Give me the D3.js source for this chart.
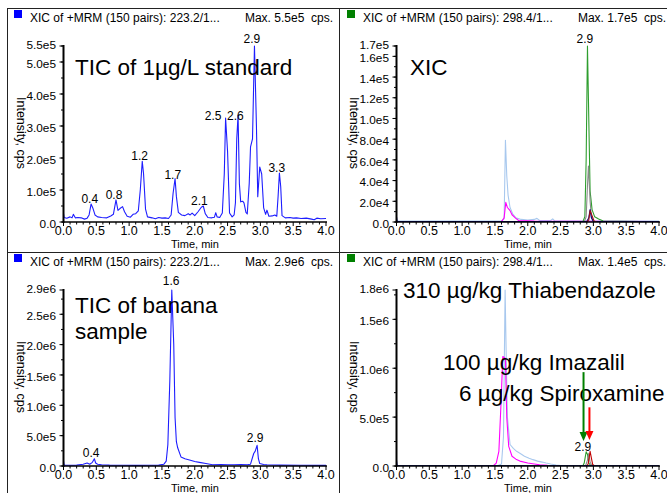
<!DOCTYPE html>
<html>
<head>
<meta charset="utf-8">
<script src="https://cdn.jsdelivr.net/npm/d3@7"></script>
<style>
  body { margin: 0; background: #fff; }
  svg text { font-family: "Liberation Sans", Arial, sans-serif; fill: #000; }
</style>
</head>
<body>
<svg width="667" height="493"></svg>
<script>
// ---- data (time in min, intensity in cps) ----
const timeTicks = [0, 0.5, 1.0, 1.5, 2.0, 2.5, 3.0, 3.5, 4.0];

const stdTicks = [0, 1e5, 2e5, 3e5, 4e5, 5e5, 5.5e5];
const xicTicks = [0, 2e4, 4e4, 6e4, 8e4, 1e5, 1.2e5, 1.4e5, 1.6e5, 1.7e5];
const banTicks = [0, 5e5, 1e6, 1.5e6, 2e6, 2.5e6, 2.9e6];
const sampleTicks = [0, 5e5, 1e6, 1.5e6, 1.8e6];

// TIC of 1 µg/L standard
const ticStd = [
  [0.00, 2.6e4], [0.01, 1.4e4], [0.05, 1.2e4], [0.10, 1.6e4], [0.13, 1.3e4], [0.15, 2.4e4],
  [0.18, 1.3e4], [0.22, 1.4e4], [0.27, 1.3e4], [0.32, 0.9e4], [0.36, 1.2e4], [0.39, 2.2e4],
  [0.42, 5.6e4], [0.45, 4.2e4], [0.48, 2.2e4], [0.52, 1.6e4], [0.58, 1.4e4], [0.66, 1.3e4],
  [0.72, 1.9e4], [0.76, 2.4e4], [0.80, 6.9e4], [0.83, 3.6e4], [0.86, 4.2e4], [0.90, 4.8e4],
  [0.93, 3.2e4], [0.97, 1.8e4], [1.02, 1.5e4], [1.06, 2.4e4], [1.10, 2.6e4], [1.14, 3.5e4],
  [1.17, 1.0e5], [1.20, 1.9e5], [1.22, 1.5e5], [1.25, 4.0e4], [1.28, 1.6e4], [1.35, 1.3e4],
  [1.40, 1.0e4], [1.45, 1.4e4], [1.50, 1.2e4], [1.55, 1.3e4], [1.60, 1.1e4], [1.64, 2.2e4],
  [1.67, 9.0e4], [1.70, 1.36e5], [1.72, 8.0e4], [1.75, 3.0e4], [1.80, 2.2e4], [1.85, 2.0e4],
  [1.90, 2.6e4], [1.93, 2.2e4], [1.96, 2.8e4], [2.00, 2.0e4], [2.05, 3.2e4], [2.10, 4.6e4],
  [2.13, 5.0e4], [2.16, 2.6e4], [2.20, 1.4e4], [2.26, 1.3e4], [2.30, 1.5e4], [2.32, 2.9e4],
  [2.34, 1.6e4], [2.38, 1.4e4], [2.42, 2.8e4], [2.45, 1.5e5], [2.47, 3.25e5], [2.50, 2.2e5],
  [2.53, 2.8e4], [2.57, 1.6e4], [2.60, 2.2e4], [2.62, 6.0e4], [2.64, 2.6e5], [2.66, 3.34e5],
  [2.68, 1.2e5], [2.70, 6.3e4], [2.73, 6.5e4], [2.75, 6.0e4], [2.78, 3.0e4], [2.80, 2.5e4],
  [2.83, 1.2e5], [2.85, 2.35e5], [2.88, 2.6e5], [2.91, 5.5e5], [2.94, 3.0e5], [2.96, 7.9e4],
  [2.99, 1.72e5], [3.02, 1.5e5], [3.05, 4.4e4], [3.08, 2.4e4], [3.10, 3.7e4], [3.13, 1.8e4],
  [3.18, 1.9e4], [3.22, 2.2e4], [3.25, 1.8e4], [3.27, 8.0e4], [3.29, 1.53e5], [3.31, 1.1e5],
  [3.33, 2.0e4], [3.38, 1.3e4], [3.45, 1.4e4], [3.50, 1.2e4], [3.55, 1.3e4], [3.62, 1.1e4],
  [3.70, 1.2e4], [3.78, 0.9e4], [3.82, 0.7e4], [3.86, 1.2e4], [3.92, 1.0e4], [4.00, 1.1e4]
];

// XIC of the standard
const xicLightBlue = [
  [0, 1e3], [1.60, 1e3], [1.64, 3e3], [1.66, 7.9e4], [1.68, 4.5e4], [1.70, 2.6e4], [1.73, 1.4e4],
  [1.77, 8e3], [1.82, 4e3], [1.90, 2.5e3], [2.00, 2e3], [2.10, 2.5e3], [2.14, 3.5e3], [2.18, 1.5e3],
  [2.35, 1.5e3], [2.38, 3e3], [2.41, 1e3], [4.0, 1e3]
];
const xicMagenta = [
  [0, 5e2], [1.60, 5e2], [1.64, 4e3], [1.665, 1.9e4], [1.69, 1.4e4], [1.73, 1.1e4], [1.76, 7e3],
  [1.81, 4e3], [1.86, 1.5e3], [2.10, 8e2], [4.0, 5e2]
];
const xicGreen = [
  [0, 3e2], [2.84, 3e2], [2.87, 5e3], [2.89, 6e4], [2.91, 1.7e5], [2.93, 1.0e5], [2.95, 3e4],
  [2.98, 1.2e4], [3.02, 5e3], [3.08, 3e3], [3.15, 1e3], [4.0, 3e2]
];
const xicGray = [[2.86, 0], [2.89, 5e3], [2.91, 3.5e4], [2.925, 5.4e4], [2.95, 2e4], [2.97, 5e3], [3.0, 0]];
const xicNavy = [[0, 5e3], [0.01, 5e2], [2.90, 5e2], [2.93, 4e3], [2.95, 1.2e4], [2.97, 4e3], [3.0, 5e2], [4.0, 5e2]];
const xicRed = [[2.90, 0], [2.93, 2e3], [2.95, 1.1e4], [2.98, 6e3], [3.01, 1e3], [3.05, 0]];

// TIC of banana sample
const ticBan = [
  [0, 8e4], [0.01, 1.5e4], [0.10, 1.2e4], [0.20, 1.5e4], [0.30, 3e4], [0.36, 5e4], [0.40, 3e4],
  [0.44, 6e4], [0.47, 1.2e5], [0.49, 5e4], [0.52, 3e4], [0.58, 2e4], [0.70, 1.5e4], [0.90, 1.2e4],
  [1.10, 1.0e4], [1.30, 1.2e4], [1.45, 1.5e4], [1.53, 3e4], [1.565, 8e4], [1.59, 3.5e5], [1.62, 1.4e6],
  [1.65, 2.9e6], [1.68, 2.0e6], [1.70, 8e5], [1.72, 4e5], [1.74, 3e5], [1.79, 1.5e5], [1.85, 1.2e5],
  [1.92, 1.0e5], [2.00, 7.5e4], [2.07, 6e4], [2.17, 4e4], [2.27, 2e4], [2.40, 2.5e4], [2.50, 2e4],
  [2.60, 2e4], [2.70, 2.5e4], [2.80, 2e4], [2.85, 3e4], [2.88, 1.4e5], [2.90, 2.1e5], [2.92, 2.4e5],
  [2.95, 3.4e5], [2.97, 1.2e5], [2.99, 4e4], [3.05, 2.5e4], [3.10, 2e4], [3.30, 1.5e4], [3.60, 1.2e4],
  [4.00, 1e4]
];

// XIC of banana sample
const banLightBlue = [
  [0, 5e3], [1.55, 5e3], [1.60, 2e4], [1.63, 3e5], [1.655, 1.8e6], [1.67, 1.2e6], [1.69, 5e5],
  [1.73, 2.2e5], [1.78, 1.8e5], [1.83, 1.5e5], [1.88, 1.3e5], [1.95, 1.0e5], [2.02, 8e4], [2.08, 6.5e4],
  [2.15, 5e4], [2.22, 4e4], [2.28, 3e4], [2.35, 2e4], [2.43, 1e4], [2.50, 5e3], [4.0, 3e3]
];
const banMagenta = [
  [0, 3e3], [1.48, 5e3], [1.52, 3e4], [1.56, 1.5e5], [1.59, 6e5], [1.62, 1.12e6], [1.66, 1.1e6],
  [1.68, 5e5], [1.71, 2e5], [1.76, 1.0e5], [1.82, 7e4], [1.88, 5e4], [2.00, 3e4], [2.10, 2e4],
  [2.18, 1.3e4], [2.30, 6e3], [2.40, 4e3], [4.0, 3e3]
];
const banGreen = [
  [0, 2e3], [2.84, 2e3], [2.86, 3e4], [2.89, 1.45e5], [2.91, 1.2e5], [2.93, 3e4], [2.96, 5e3],
  [3.00, 2e3], [4.0, 2e3]
];
const banGray = [[2.88, 0], [2.91, 6e4], [2.93, 1.3e5], [2.95, 4e4], [2.98, 0]];
const banRed = [[2.90, 0], [2.92, 2e4], [2.95, 1.5e5], [2.97, 8e4], [2.99, 1.5e4], [3.02, 0]];
const banNavy = [[0, 6e4], [0.01, 3e3], [4.0, 3e3]];

// peak labels: [text, time, intensity]
const stdPeaks = [
  ["0.4", 0.40, 5.6e4], ["0.8", 0.77, 6.9e4], ["1.2", 1.16, 1.9e5], ["1.7", 1.665, 1.31e5],
  ["2.1", 2.07, 5.0e4], ["2.5", 2.28, 3.15e5], ["2.6", 2.62, 3.15e5], ["2.9", 2.87, 5.55e5],
  ["3.3", 3.25, 1.52e5]
];
const xicPeaks = [["2.9", 2.87, 1.72e5]];
const banPeaks = [["0.4", 0.42, 1.3e5], ["1.6", 1.64, 2.97e6], ["2.9", 2.92, 3.8e5]];
const samplePeaks = [["2.9", 2.84, 1.45e5]];

// arrows in the sample XIC: [colour, time, from, to]
const sampleArrows = [
  ["#008000", 2.85, 9.6e5, 2.55e5],
  ["#ff0000", 2.94, 6.0e5, 2.65e5]
];

// ---- layout ----
const svg = d3.select("svg");
const plot = { left: 63.5, right: 326, top: 46, bottom: 222 };

const panels = [
  { ox: 0, oy: 0, yMax: 5.5e5, ticks: stdTicks, square: "#0000ff",
    header: "XIC of +MRM (150 pairs): 223.2/1...", max: "Max. 5.5e5  cps.",
    traces: [[ticStd, "#1e1eff"]], peaks: stdPeaks,
    notes: [["TIC of 1µg/L standard", 75, 75]] },
  { ox: 333, oy: 0, yMax: 1.7e5, ticks: xicTicks, square: "#008000",
    header: "XIC of +MRM (150 pairs): 298.4/1...", max: "Max. 1.7e5  cps.",
    traces: [[xicLightBlue, "#a8c8ee"], [xicMagenta, "#ff00ff"], [xicGreen, "#2e9e2e"],
             [xicGray, "#8a8a8a"], [xicNavy, "#00008b"], [xicRed, "#a01010"]],
    peaks: xicPeaks, notes: [["XIC", 77, 75]] },
  { ox: 0, oy: 244, yMax: 2.9e6, ticks: banTicks, square: "#0000ff",
    header: "XIC of +MRM (150 pairs): 223.2/1...", max: "Max. 2.9e6  cps.",
    traces: [[ticBan, "#1e1eff"]], peaks: banPeaks,
    notes: [["TIC of banana", 75, 69], ["sample", 75, 95]] },
  { ox: 333, oy: 244, yMax: 1.8e6, ticks: sampleTicks, square: "#008000",
    header: "XIC of +MRM (150 pairs): 298.4/1...", max: "Max. 1.4e5  cps.",
    traces: [[banLightBlue, "#a8c8ee"], [banMagenta, "#ff00ff"], [banGreen, "#2e9e2e"],
             [banGray, "#8a8a8a"], [banRed, "#c00000"], [banNavy, "#00008b"]],
    peaks: samplePeaks, arrows: sampleArrows,
    notes: [["310 µg/kg Thiabendazole", 70, 54], ["100 µg/kg Imazalil", 110, 126],
            ["6 µg/kg Spiroxamine", 126, 157]] }
];

const fmtY = v => v === 0 ? "0.0" : v.toExponential(1).replace("+", "");
const fmtX = d3.format(".1f");

// frame lines
const frame = svg.append("g").attr("stroke", "#222").attr("stroke-width", 1);
frame.append("line").attr("x1", 7).attr("x2", 667).attr("y1", 8.5).attr("y2", 8.5);
frame.append("line").attr("x1", 7).attr("x2", 667).attr("y1", 252.5).attr("y2", 252.5);
frame.append("line").attr("x1", 7.5).attr("x2", 7.5).attr("y1", 8).attr("y2", 493);
frame.append("line").attr("x1", 339.5).attr("x2", 339.5).attr("y1", 8).attr("y2", 493);

panels.forEach((p, i) => {
  const g = svg.append("g").attr("transform", `translate(${p.ox},${p.oy})`);
  const x = d3.scaleLinear().domain([0, 4]).range([plot.left, plot.right]);
  const y = d3.scaleLinear().domain([0, p.yMax]).range([plot.bottom, plot.top]);

  // header
  g.append("rect").attr("x", 14).attr("y", 10).attr("width", 8).attr("height", 8)
    .attr("fill", p.square);
  g.append("text").attr("x", 30).attr("y", 21.5).attr("font-size", 12).text(p.header);
  g.append("text").attr("x", 333).attr("y", 21.5).attr("font-size", 12)
    .attr("text-anchor", "end").style("white-space", "pre").text(p.max);

  // traces (clipped to plot)
  const clipId = "clip" + i;
  g.append("clipPath").attr("id", clipId).append("rect")
    .attr("x", plot.left).attr("y", plot.top - 2)
    .attr("width", plot.right - plot.left + 3).attr("height", plot.bottom - plot.top + 2);
  const line = d3.line().x(d => x(d[0])).y(d => y(d[1]));
  const tg = g.append("g").attr("clip-path", `url(#${clipId})`);
  p.traces.forEach(([data, color]) => {
    tg.append("path").datum(data).attr("d", line)
      .attr("fill", "none").attr("stroke", color).attr("stroke-width", 1.1)
      .attr("stroke-linejoin", "round");
  });

  // x axis
  const xa = g.append("g").attr("transform", `translate(0,${plot.bottom})`);
  xa.append("line").attr("x1", plot.left - 1).attr("x2", plot.right + 1)
    .attr("stroke", "#000").attr("stroke-width", 1.5);
  xa.selectAll(".minor").data(d3.range(0, 41)).join("line")
    .attr("x1", d => x(d / 10)).attr("x2", d => x(d / 10))
    .attr("y1", 0).attr("y2", d => d % 5 === 0 ? 4 : 2.5)
    .attr("stroke", "#000").attr("stroke-width", 1);
  xa.selectAll("text").data(timeTicks).join("text")
    .attr("x", d => x(d)).attr("y", 12.5).attr("font-size", 12.5)
    .attr("text-anchor", "middle").text(fmtX);
  g.append("text").attr("x", 195).attr("y", 247.5).attr("font-size", 11)
    .attr("text-anchor", "middle").text("Time, min");

  // y axis
  const ya = g.append("g");
  ya.append("line").attr("x1", plot.left).attr("x2", plot.left)
    .attr("y1", plot.top - 1).attr("y2", plot.bottom + 1)
    .attr("stroke", "#000").attr("stroke-width", 2);
  const step = p.ticks[1];
  ya.selectAll(".minor").data(d3.range(0, p.yMax + 1, step / 2)).join("line")
    .attr("x1", plot.left - 2.5).attr("x2", plot.left)
    .attr("y1", d => y(d)).attr("y2", d => y(d))
    .attr("stroke", "#000").attr("stroke-width", 1);
  ya.selectAll(".major").data(p.ticks).join("line")
    .attr("x1", plot.left - 4).attr("x2", plot.left)
    .attr("y1", d => y(d)).attr("y2", d => y(d))
    .attr("stroke", "#000").attr("stroke-width", 1);
  ya.selectAll("text").data(p.ticks).join("text")
    .attr("x", 56).attr("y", (d, k) => y(d) + (k === p.ticks.length - 1 ? -1.5 : 1.5)).attr("dy", "0.35em")
    .attr("font-size", 11.8).attr("text-anchor", "end").text(fmtY);
  g.append("text").attr("transform", "translate(17,133) rotate(90)")
    .attr("font-size", 12.5).attr("text-anchor", "middle").text("Intensity, cps");

  // peak labels
  g.selectAll(".peak").data(p.peaks).join("text")
    .attr("x", d => x(d[1])).attr("y", d => y(d[2]) - 1)
    .attr("font-size", 12).attr("text-anchor", "middle").text(d => d[0]);

  // big notes
  p.notes.forEach(([txt, nx, ny]) => {
    g.append("text").attr("x", nx).attr("y", ny).attr("font-size", 22.5).text(txt);
  });

  // arrows
  (p.arrows || []).forEach(([color, t, v0, v1]) => {
    const ax = x(t), y0 = y(v0), y1 = y(v1);
    g.append("line").attr("x1", ax).attr("x2", ax).attr("y1", y0).attr("y2", y1 - 8)
      .attr("stroke", color).attr("stroke-width", 2);
    g.append("path").attr("d", `M${ax - 4},${y1 - 9}L${ax + 4},${y1 - 9}L${ax},${y1}Z`)
      .attr("fill", color);
  });
});
</script>
</body>
</html>
